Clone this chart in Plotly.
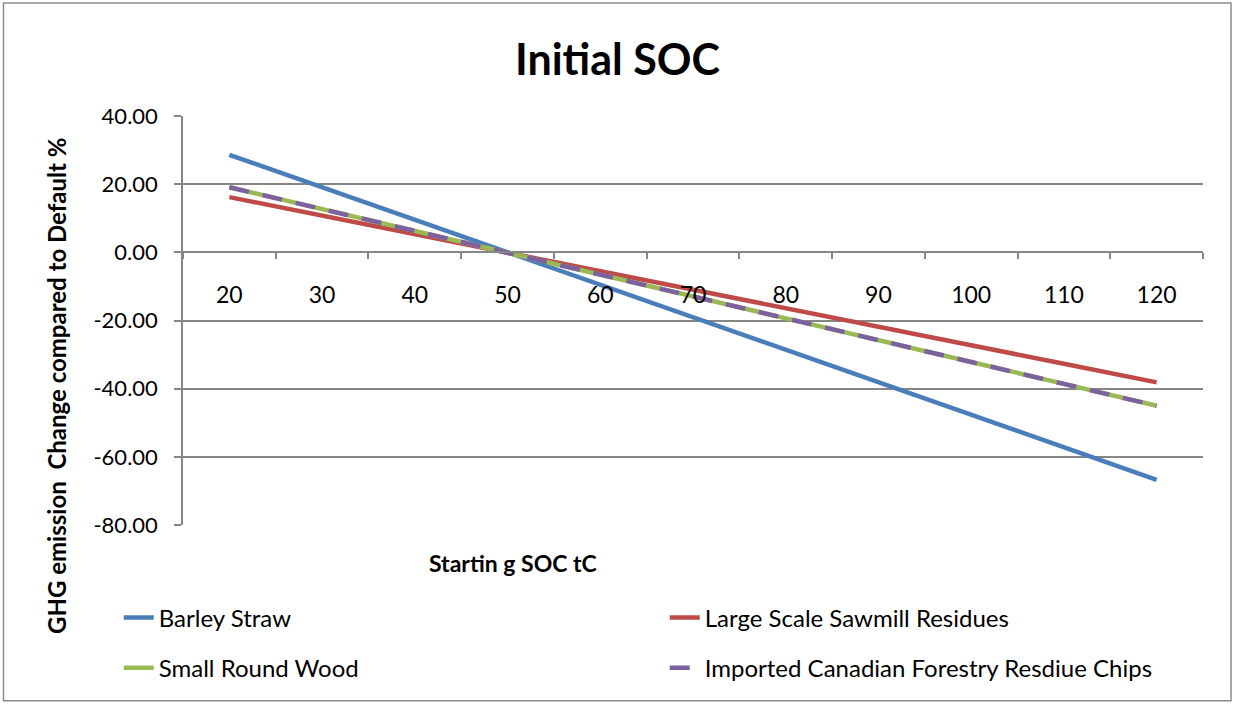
import plotly.graph_objects as go

categories = ["20", "30", "40", "50", "60", "70", "80", "90", "100", "110", "120"]
barley_straw = [28.6, 19.07, 9.53, 0.0, -9.53, -19.07, -28.6, -38.13, -47.67, -57.2, -66.73]
sawmill_residues = [16.2, 10.8, 5.4, 0.0, -5.45, -10.9, -16.35, -21.8, -27.25, -32.7, -38.15]
small_round_wood = [19.1, 12.73, 6.37, 0.0, -6.43, -12.87, -19.3, -25.73, -32.17, -38.6, -45.03]
canadian_chips = [19.1, 12.73, 6.37, 0.0, -6.43, -12.87, -19.3, -25.73, -32.17, -38.6, -45.03]
y_ticks = [-80, -60, -40, -20, 0, 20, 40]
y_tick_labels = ["-80.00", "-60.00", "-40.00", "-20.00", "0.00", "20.00", "40.00"]

FONT = "Lato"
GRID = "#868686"

fig = go.Figure()
fig.add_trace(go.Scatter(x=categories, y=barley_straw, mode="lines", name="Barley Straw",
                         line=dict(color="#4A7EBB", width=4.5), legend="legend"))
fig.add_trace(go.Scatter(x=categories, y=sawmill_residues, mode="lines", name="Large Scale Sawmill Residues",
                         line=dict(color="#BE4B48", width=4.5), legend="legend"))
fig.add_trace(go.Scatter(x=categories, y=small_round_wood, mode="lines", name="Small Round Wood",
                         line=dict(color="#98B954", width=4.5), legend="legend2"))
fig.add_trace(go.Scatter(x=categories, y=canadian_chips, mode="lines", name="Imported Canadian Forestry Resdiue Chips",
                         line=dict(color="#7D60A0", width=4.5, dash="20px,14px"), legend="legend2"))

legend_common = dict(orientation="h", xanchor="left", yanchor="middle",
                     entrywidth=501, entrywidthmode="pixels",
                     font=dict(family=FONT, size=24, color="black"),
                     bgcolor="rgba(0,0,0,0)")

fig.update_layout(
    width=1235, height=704,
    margin=dict(l=183, r=32, t=116, b=179),
    paper_bgcolor="white", plot_bgcolor="white",
    font=dict(family=FONT, color="black"),
    title=dict(text="<b>Initial SOC</b>", x=0.5, xanchor="center", y=0.915, yanchor="middle",
               font=dict(family=FONT, size=43, color="black")),
    showlegend=True,
    legend=dict(x=-0.063, y=-0.227, **legend_common),
    legend2=dict(x=-0.063, y=-0.35, **legend_common),
    xaxis=dict(type="category", range=[-0.5, 10.5], anchor="free", position=2/3,
               showline=True, linecolor=GRID, linewidth=1.5,
               ticks="outside", tickson="boundaries", ticklen=6, tickcolor=GRID, tickwidth=1.5,
               ticklabelstandoff=22, showgrid=False,
               tickfont=dict(family=FONT, size=23, color="black")),
    yaxis=dict(range=[-80, 40], tickvals=y_ticks, ticktext=y_tick_labels, domain=[0, 1],
               showline=True, linecolor=GRID, linewidth=1.5,
               ticks="outside", ticklen=7, tickcolor=GRID, tickwidth=1.5,
               ticklabelstandoff=12,
               showgrid=True, gridcolor=GRID, gridwidth=1.5, zeroline=False,
               tickfont=dict(family=FONT, size=22, color="black")),
    annotations=[
        dict(text="<b>Startin g SOC tC</b>", xref="paper", yref="paper", x=0.3235, y=-0.093,
             showarrow=False, xanchor="center", yanchor="middle",
             font=dict(family=FONT, size=23, color="black")),
        dict(text="<b>GHG emission  Change compared to Default %</b>", xref="paper", yref="paper",
             x=-0.1235, y=0.34, textangle=-90, showarrow=False, xanchor="center", yanchor="middle",
             font=dict(family=FONT, size=24, color="black")),
    ],
    shapes=[dict(type="rect", xref="paper", yref="paper",
                 x0=-0.176, x1=1.0275, y0=-0.43, y1=1.276,
                 line=dict(color="#8C8C8C", width=1.5), layer="below")],
)

fig.write_html("out.html", config={"displayModeBar": False},
               post_script="document.body.style.margin='0';")
